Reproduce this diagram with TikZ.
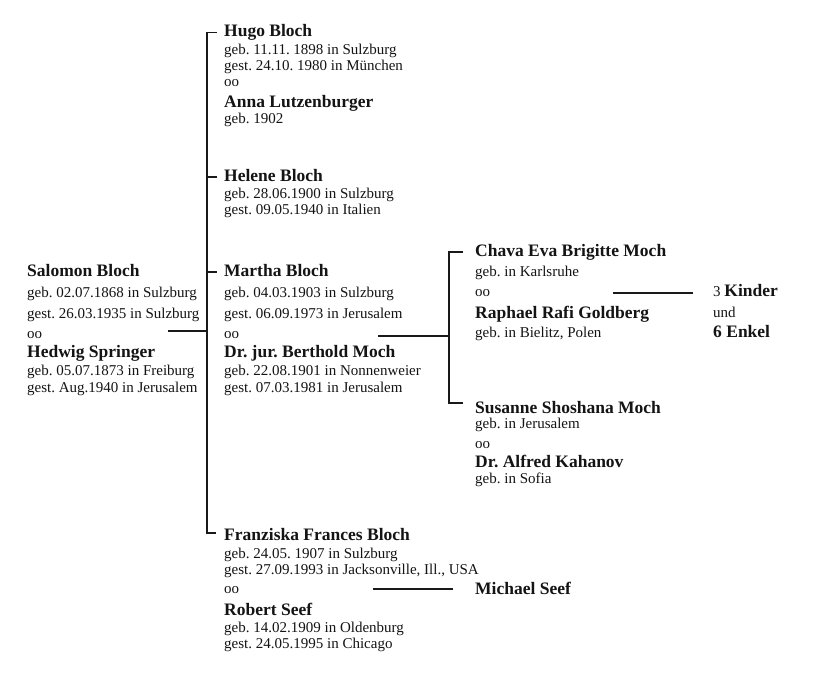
\documentclass[tikz,border=0pt]{standalone}
\usepackage{fontspec}
\setmainfont{Liberation Serif}
\frenchspacing
\begin{document}
\begin{tikzpicture}[x=1pt,y=-1pt,
  txt/.style={anchor=base west, inner sep=0pt, text=black!92, font=\fontsize{15}{17}\selectfont},
  nm/.style={txt, font=\fontsize{17.5}{20}\selectfont\bfseries},
  link/.style={line width=1.2pt, black!90}]
\useasboundingbox[fill=white] (0,0) rectangle (813,692);
% Salomon & Hedwig
\node[nm]  (sal)  at (27,276.7) {Salomon Bloch};
\node[txt] (sal1) at (27,298) {geb. 02.07.1868 in Sulzburg};
\node[txt] (sal2) at (27,318) {gest. 26.03.1935 in Sulzburg};
\node[txt] (sal3) at (27,338) {oo};
\node[nm]  (hed)  at (27,357) {Hedwig Springer};
\node[txt] (hed1) at (27,375) {geb. 05.07.1873 in Freiburg};
\node[txt] (hed2) at (27,392) {gest. Aug.1940 in Jerusalem};
% Hugo
\node[nm]  (hugo)  at (224,36.7) {Hugo Bloch};
\node[txt] (hugo1) at (224,55) {geb. 11.11. 1898 in Sulzburg};
\node[txt] (hugo2) at (224,71) {gest. 24.10. 1980 in München};
\node[txt] (hugo3) at (224,87) {oo};
\node[nm]  (anna)  at (224,108) {Anna Lutzenburger};
\node[txt] (anna1) at (224,124) {geb. 1902};
% Helene
\node[nm]  (hel)  at (224,181.7) {Helene Bloch};
\node[txt] (hel1) at (224,199) {geb. 28.06.1900 in Sulzburg};
\node[txt] (hel2) at (224,215) {gest. 09.05.1940 in Italien};
% Martha & Berthold
\node[nm]  (mar)  at (224,276.7) {Martha Bloch};
\node[txt] (mar1) at (224,298) {geb. 04.03.1903 in Sulzburg};
\node[txt] (mar2) at (224,318) {gest. 06.09.1973 in Jerusalem};
\node[txt] (mar3) at (224,338) {oo};
\node[nm]  (ber)  at (224,357) {Dr. jur. Berthold Moch};
\node[txt] (ber1) at (224,375) {geb. 22.08.1901 in Nonnenweier};
\node[txt] (ber2) at (224,392) {gest. 07.03.1981 in Jerusalem};
% Franziska & Robert
\node[nm]  (fra)  at (224,540) {Franziska Frances Bloch};
\node[txt] (fra1) at (224,558) {geb. 24.05. 1907 in Sulzburg};
\node[txt] (fra2) at (224,574) {gest. 27.09.1993 in Jacksonville, Ill., USA};
\node[txt] (fra3) at (224,593) {oo};
\node[nm]  (rob)  at (224,615) {Robert Seef};
\node[txt] (rob1) at (224,632) {geb. 14.02.1909 in Oldenburg};
\node[txt] (rob2) at (224,648) {gest. 24.05.1995 in Chicago};
\node[nm]  (mic)  at (475,594) {Michael Seef};
% Chava & Raphael
\node[nm]  (cha)  at (475,256.7) {Chava Eva Brigitte Moch};
\node[txt] (cha1) at (475,276.7) {geb. in Karlsruhe};
\node[txt] (cha2) at (475,296.7) {oo};
\node[nm]  (rap)  at (475,318) {Raphael Rafi Goldberg};
\node[txt] (rap1) at (475,337.7) {geb. in Bielitz, Polen};
\node[txt] (kid1) at (713,296.7) {3 \textbf{\fontsize{17.5}{20}\selectfont Kinder}};
\node[txt] (kid2) at (713,317.7) {und};
\node[nm]  (kid3) at (713,337.7) {6 Enkel};
% Susanne & Alfred
\node[nm]  (sus)  at (475,413) {Susanne Shoshana Moch};
\node[txt] (sus1) at (475,428) {geb. in Jerusalem};
\node[txt] (sus2) at (475,448) {oo};
\node[nm]  (alf)  at (475,467) {Dr. Alfred Kahanov};
\node[txt] (alf1) at (475,483) {geb. in Sofia};
% tree coordinates
\coordinate (tTop) at (207,32.5);
\coordinate (tHel) at (207,177);
\coordinate (tMar) at (207,272);
\coordinate (tSal) at (207,331);
\coordinate (tFra) at (207,533);
\coordinate (salE) at (168,331);
\coordinate (marE) at (378,336);
\coordinate (cMid) at (449,336);
\coordinate (cTop) at (449,252);
\coordinate (cBot) at (449,403);
\coordinate (chaE) at (613,293);
\coordinate (kidW) at (693,293);
\coordinate (fraE) at (373,589);
\coordinate (micW) at (453,589);
\draw[link] (tTop -| hugo.west) ++(-7,0) -- (tTop) -- (tFra) -- ++(9,0);
\draw[link] (tHel) -- ++(10,0);
\draw[link] (tMar) -- ++(10,0);
\draw[link] (salE) -- (tSal);
\draw[link] (marE) -- (cMid);
\draw[link] (cTop) ++(14,0) -- (cTop) -- (cBot) -- ++(14,0);
\draw[link] (chaE) -- (kidW);
\draw[link] (fraE) -- (micW);
\end{tikzpicture}
\end{document}
